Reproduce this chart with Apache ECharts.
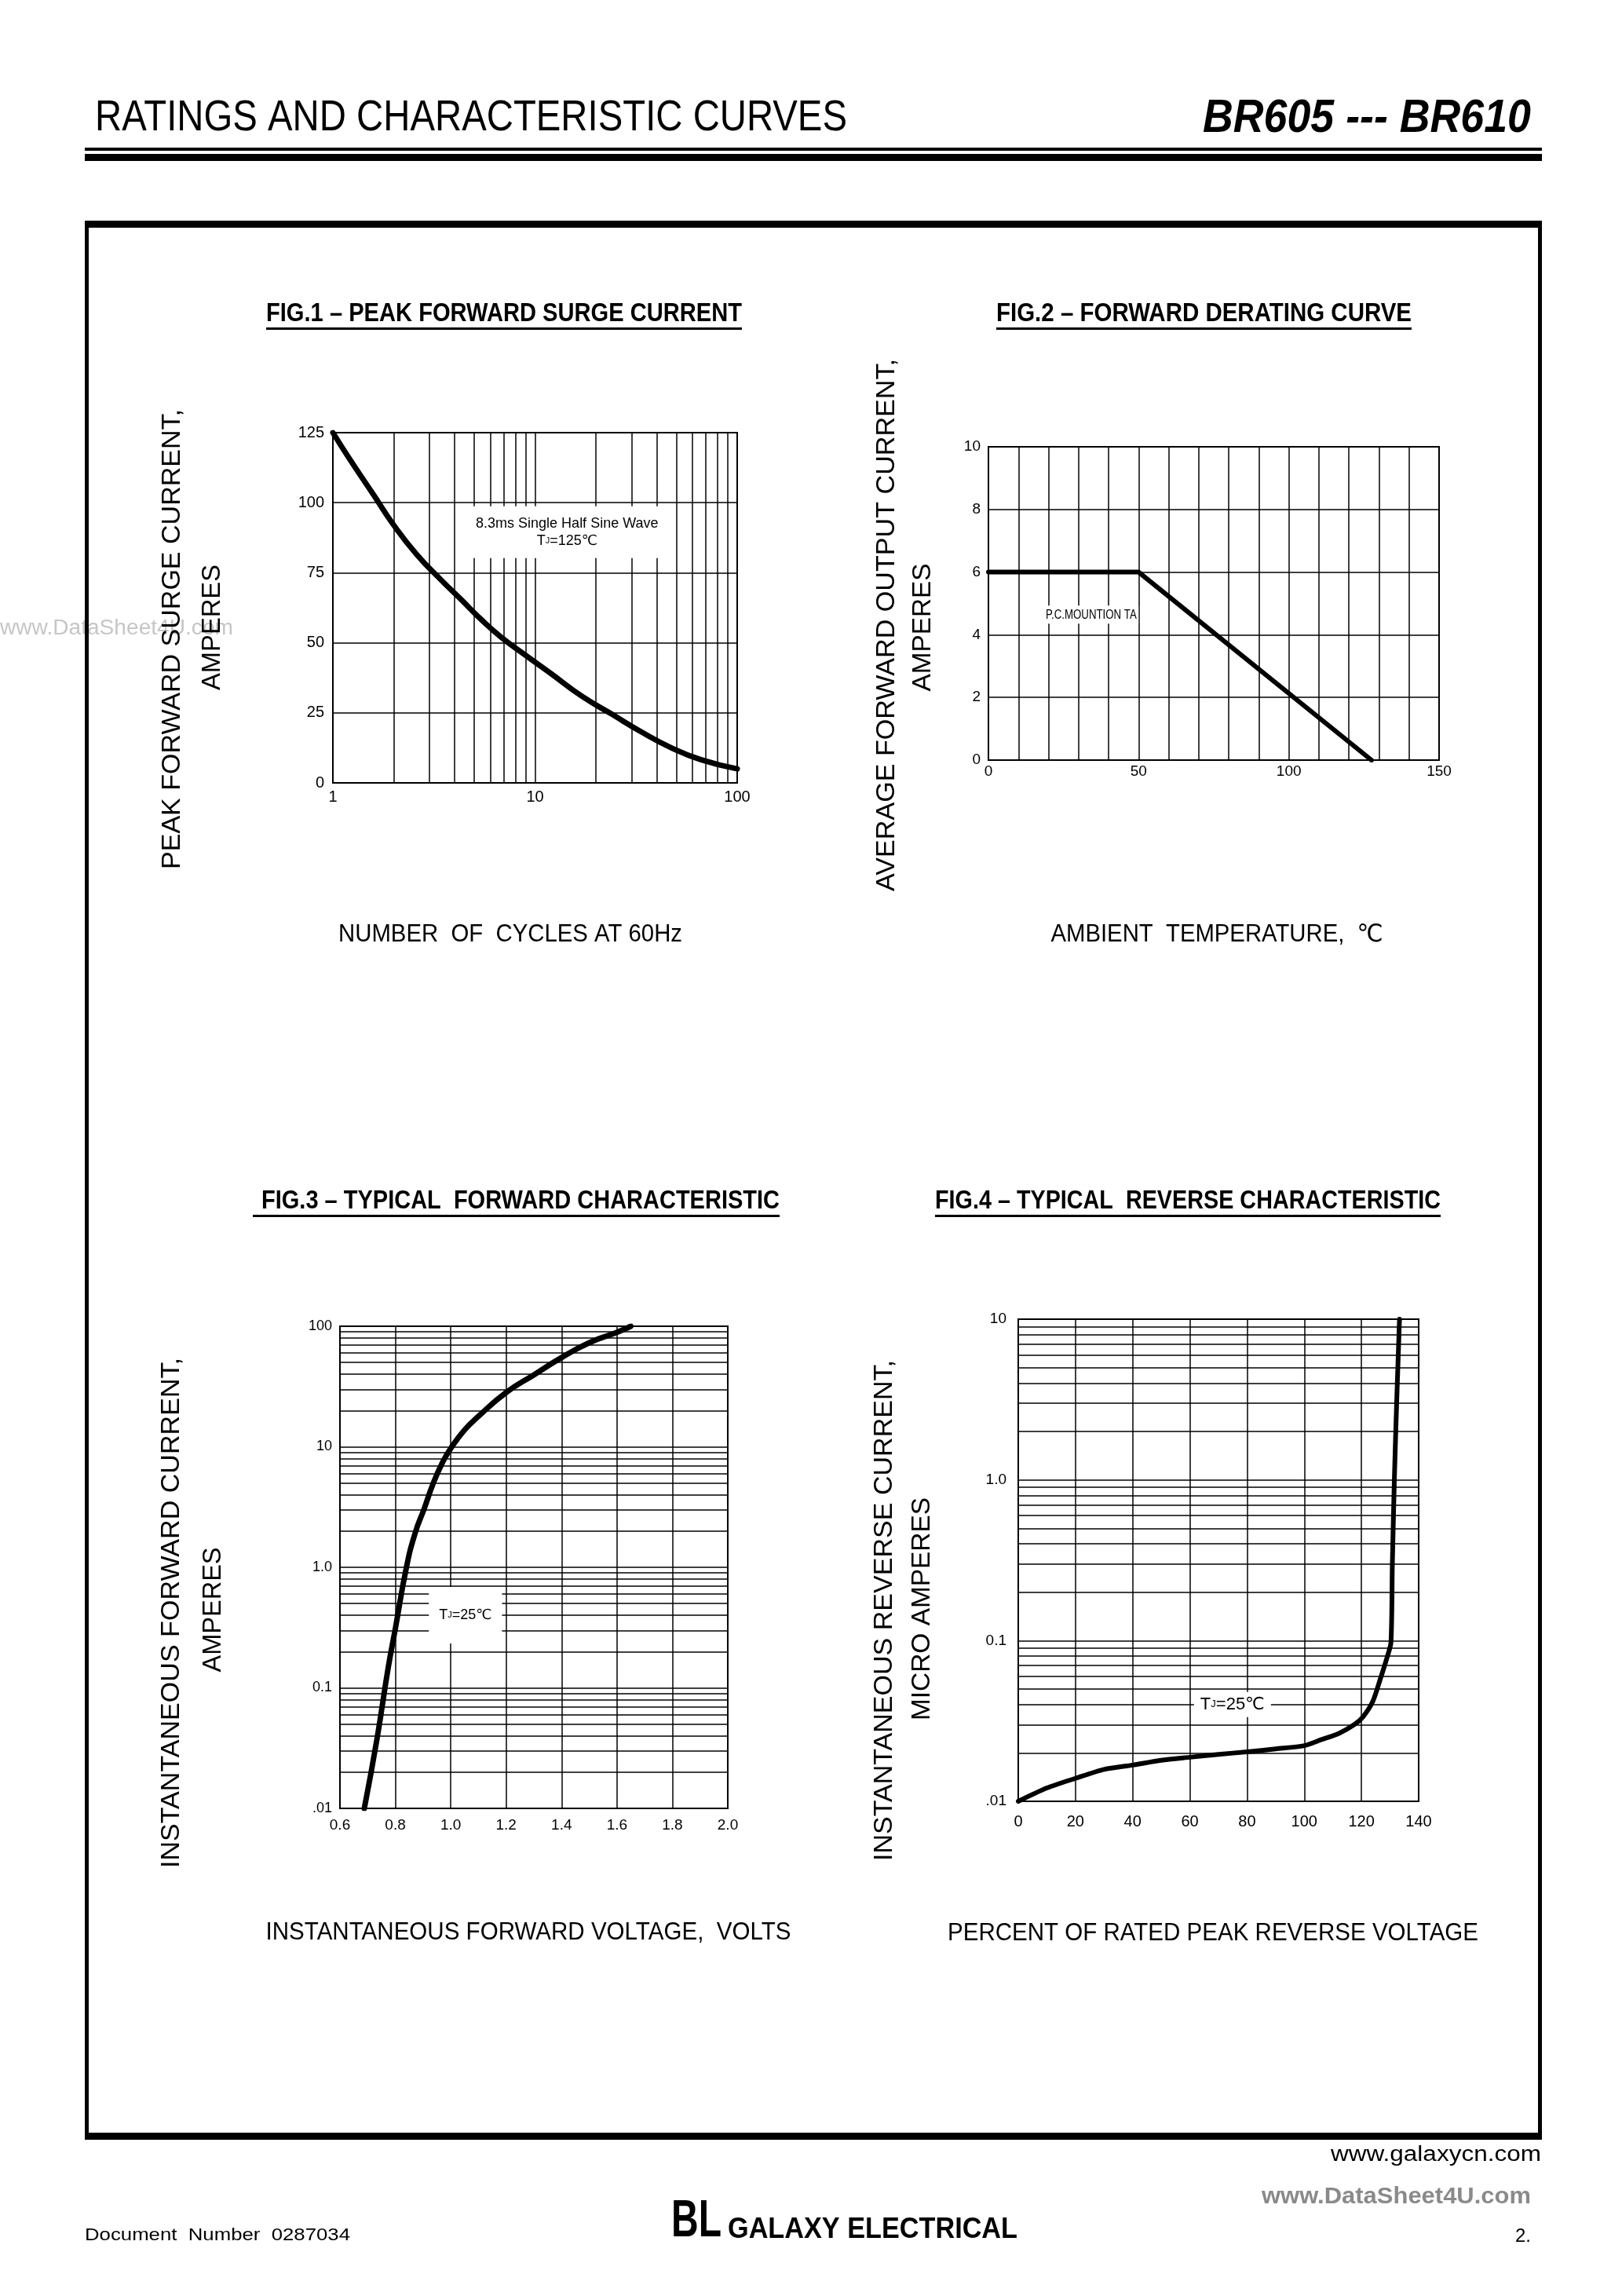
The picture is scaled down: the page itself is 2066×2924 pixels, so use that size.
<!DOCTYPE html>
<html>
<head>
<meta charset="utf-8">
<title>BR605 --- BR610 ratings and characteristic curves</title>
<script src="https://cdn.jsdelivr.net/npm/echarts@6/dist/echarts.min.js"></script>
<style>
  html, body { margin: 0; padding: 0; background: #fff; }
  #page { width: 2066px; height: 2924px; }
</style>
</head>
<body>
<div id="page"></div>
<script>
// ---- values ----

// FIG.1 peak forward surge current (log x)
const surgeCycles = [1, 1.2, 1.6, 2, 2.6, 3.4, 4.3, 5.4, 6.8, 8.8, 12, 17, 24, 33, 47, 66, 100];
const surgeAmps = [125, 116, 102.5, 92, 81.5, 72.7, 65.5, 58.4, 52, 46, 39, 31, 24.5, 18.5, 12.6, 8.3, 5];
const surgeGridX = [2, 3, 4, 5, 6, 7, 8, 9, 20, 30, 40, 50, 60, 70, 80, 90];

// FIG.2 forward derating curve
const deratingTemp = [0, 50, 127.5];
const deratingAmps = [6, 6, 0];
const deratingXLabels = [0, 50, 100, 150];

// FIG.3 typical forward characteristic (log y)
const fwdVolts = [0.688, 0.734, 0.774, 0.80, 0.84, 0.872, 0.905, 0.937, 0.97, 1.0, 1.05, 1.10, 1.20, 1.30, 1.40, 1.50, 1.60, 1.65];
const fwdAmps = [0.01, 0.038, 0.146, 0.31, 1.0, 1.94, 3.1, 5.0, 7.4, 9.7, 13.8, 17.9, 28.2, 39.5, 55, 73, 89, 100];
const fwdYLabels = ['.01', '0.1', '1.0', '10', '100'];
const fwdGridY = [0.02, 0.03, 0.04, 0.05, 0.06, 0.07, 0.08, 0.09,
                  0.2, 0.3, 0.4, 0.5, 0.6, 0.7, 0.8, 0.9,
                  2, 3, 4, 5, 6, 7, 8, 9,
                  20, 30, 40, 50, 60, 70, 80, 90];

// FIG.4 typical reverse characteristic (log y)
const revPercent = [0, 10, 20, 30, 40, 50, 60, 70, 80, 90, 100, 106, 112, 117.5, 120.5, 124, 126.5, 128.8, 130.3, 130.8, 131.5, 132.3, 133.3];
const revMicroAmps = [0.01, 0.0121, 0.0139, 0.0158, 0.0168, 0.018, 0.0188, 0.0196, 0.0203, 0.0212, 0.0222, 0.0242, 0.0264, 0.03, 0.0335, 0.042, 0.057, 0.077, 0.097, 0.3, 1.0, 3.0, 10];
const revYLabels = ['.01', '0.1', '1.0', '10'];
const revGridY = [0.02, 0.03, 0.04, 0.05, 0.06, 0.07, 0.08, 0.09,
                  0.2, 0.3, 0.4, 0.5, 0.6, 0.7, 0.8, 0.9,
                  2, 3, 4, 5, 6, 7, 8, 9];

// ---- layout ----
const FF = '"Liberation Sans", Arial, Helvetica, "DejaVu Sans", sans-serif';
const plots = [
  { left: 424, top: 551, width: 515, height: 446 },
  { left: 1259, top: 569, width: 574, height: 399 },
  { left: 433, top: 1689, width: 494, height: 614 },
  { left: 1297, top: 1680, width: 510, height: 614 }
];

const zip = (xs, ys) => xs.map((x, i) => [x, ys[i]]);
const logIdx = (v, min) => Math.round(Math.log10(v) - Math.log10(min));

function axis(gridIndex, opt, lbl) {
  return Object.assign({
    gridIndex: gridIndex,
    axisLine: { show: false },
    axisTick: { show: false },
    splitLine: { show: true, lineStyle: { color: '#000', width: 1.5 } },
    axisLabel: Object.assign({ color: '#000', fontSize: 20, fontFamily: FF }, lbl)
  }, opt);
}

// grid lines that the log axes cannot draw themselves (2..9 of each decade)
function gridLines(idx, dim, values) {
  return {
    type: 'line', xAxisIndex: idx, yAxisIndex: idx, data: [], z: 1, silent: true,
    markLine: {
      z: 1, silent: true, animation: false, symbol: ['none', 'none'],
      label: { show: false },
      lineStyle: { color: '#000', width: 1.5, type: 'solid' },
      data: values.map(v => ({ [dim]: v }))
    }
  };
}

function curve(idx, data, width, smooth) {
  return {
    type: 'line', xAxisIndex: idx, yAxisIndex: idx, data: data, z: 20, silent: true,
    showSymbol: false, smooth: smooth,
    lineStyle: { color: '#000', width: width, cap: 'round', join: 'round' }
  };
}

const chart = echarts.init(document.getElementById('page'), null, { width: 2066, height: 2924 });

chart.setOption({
  animation: false,
  backgroundColor: '#fff',
  grid: plots.map(p => Object.assign({ show: true, borderColor: '#000', borderWidth: 2, backgroundColor: '#fff' }, p)),
  xAxis: [
    axis(0, { type: 'log', logBase: 10, min: 1, max: 100 }, { margin: 8 }),
    axis(1, { type: 'value', min: 0, max: 150, interval: 10 },
      { margin: 5, fontSize: 19, formatter: v => deratingXLabels.includes(v) ? String(v) : '' }),
    axis(2, { type: 'value', min: 0.6, max: 2.0, interval: 0.2 },
      { margin: 12, fontSize: 19, formatter: v => v.toFixed(1) }),
    axis(3, { type: 'value', min: 0, max: 140, interval: 20 }, { margin: 16 })
  ],
  yAxis: [
    axis(0, { type: 'value', min: 0, max: 125, interval: 25 }, { margin: 11 }),
    axis(1, { type: 'value', min: 0, max: 10, interval: 2 }, { margin: 10, fontSize: 19 }),
    axis(2, { type: 'log', logBase: 10, min: 0.01, max: 100 },
      { margin: 10, fontSize: 18, formatter: v => fwdYLabels[logIdx(v, 0.01)] }),
    axis(3, { type: 'log', logBase: 10, min: 0.01, max: 10 },
      { margin: 15, fontSize: 19, formatter: v => revYLabels[logIdx(v, 0.01)] })
  ],
  series: [
    gridLines(0, 'xAxis', surgeGridX),
    gridLines(2, 'yAxis', fwdGridY),
    gridLines(3, 'yAxis', revGridY),
    curve(0, zip(surgeCycles, surgeAmps), 7, 0.5),
    curve(1, zip(deratingTemp, deratingAmps), 6, false),
    curve(2, zip(fwdVolts, fwdAmps), 7, 0.5),
    curve(3, zip(revPercent, revMicroAmps), 6, 0.25)
  ]
});

// ---- page text ----
const ctx = document.createElement('canvas').getContext('2d');

function text(str, x, y, size, o) {
  o = o || {};
  const weight = o.weight || 'normal';
  const fstyle = o.italic ? 'italic' : 'normal';
  ctx.font = fstyle + ' ' + weight + ' ' + size + 'px ' + FF;
  const sx = o.width ? o.width / ctx.measureText(str).width : 1;
  return {
    type: 'text', x: x, y: y, z: o.z || 30, silent: true,
    rotation: o.vertical ? Math.PI / 2 : 0,
    scaleX: sx,
    style: {
      text: str, fontSize: size, fontFamily: FF, fontWeight: weight, fontStyle: fstyle,
      fill: o.color || '#000', align: o.align || 'center', verticalAlign: 'middle'
    }
  };
}

function bar(x, y, w, h) {
  return { type: 'rect', z: 30, silent: true, shape: { x: x, y: y, width: w, height: h }, style: { fill: '#000' } };
}

function title(str, x1, x2, y, uStart) {
  return [
    text(str, (x1 + x2) / 2, y, 33, { weight: 'bold', width: x2 - x1 }),
    bar(uStart || x1, y + 17, x2 - (uStart || x1), 3)
  ];
}

// annotations placed through the chart's own scales, on a white box above the grid
function note(gridIndex, coord, str, size, pad, o) {
  o = o || {};
  const p = chart.convertToPixel({ gridIndex: gridIndex }, coord);
  return {
    type: 'text', x: p[0], y: p[1], z: 15, silent: true, scaleX: o.scaleX || 1,
    style: {
      text: str, fontSize: size, fontFamily: FF, fill: '#000',
      align: 'center', verticalAlign: 'middle', lineHeight: o.lineHeight || size + 2,
      backgroundColor: '#fff', padding: pad,
      rich: { s: { fontSize: Math.round(size * 0.6), fontFamily: FF, fill: '#000' } }
    }
  };
}

const elements = [
  // header
  text('RATINGS AND CHARACTERISTIC CURVES', 121, 151, 56, { align: 'left', width: 958 }),
  text('BR605 --- BR610', 1950, 151, 60, { align: 'right', weight: 'bold', italic: true, width: 418 }),
  bar(108, 188, 1856, 4),
  bar(108, 196, 1856, 9),

  // frame
  bar(108, 281, 1856, 9),
  bar(108, 2716, 1856, 9),
  bar(108, 281, 5, 2444),
  bar(1959, 281, 5, 2444),

  // watermark at the left edge
  text('www.DataSheet4U.com', 0, 801, 27, { align: 'left', width: 297, color: '#c6c6c6', z: 29 }),

  // figure titles
  ...title('FIG.1 \u2013 PEAK FORWARD SURGE CURRENT', 339, 945, 400),
  ...title('FIG.2 \u2013 FORWARD DERATING CURVE', 1269, 1798, 400),
  ...title('FIG.3 \u2013 TYPICAL  FORWARD CHARACTERISTIC', 333, 993, 1530, 322),
  ...title('FIG.4 \u2013 TYPICAL  REVERSE CHARACTERISTIC', 1191, 1835, 1530),

  // y axis names
  text('PEAK FORWARD SURGE CURRENT,', 220, 814, 34, { vertical: true, width: 586 }),
  text('AMPERES', 271, 799, 34, { vertical: true, width: 160 }),
  text('AVERAGE FORWARD OUTPUT CURRENT,', 1130, 796, 34, { vertical: true, width: 678 }),
  text('AMPERES', 1176, 799, 34, { vertical: true, width: 163 }),
  text('INSTANTANEOUS FORWARD CURRENT,', 219, 2054, 34, { vertical: true, width: 650 }),
  text('AMPERES', 272, 2050, 34, { vertical: true, width: 159 }),
  text('INSTANTANEOUS REVERSE CURRENT,', 1127, 2051, 34, { vertical: true, width: 638 }),
  text('MICRO AMPERES', 1175, 2049, 34, { vertical: true, width: 284 }),

  // x axis names
  text('NUMBER  OF  CYCLES AT 60Hz', 650, 1190, 31, { width: 438 }),
  text('AMBIENT  TEMPERATURE,  \u2103', 1550, 1190, 31, { width: 423 }),
  text('INSTANTANEOUS FORWARD VOLTAGE,  VOLTS', 673, 2461, 31, { width: 669 }),
  text('PERCENT OF RATED PEAK REVERSE VOLTAGE', 1545, 2462, 31, { width: 676 }),

  // footer
  text('www.galaxycn.com', 1963, 2745, 27, { align: 'right', width: 268 }),
  text('www.DataSheet4U.com', 1950, 2798, 30, { align: 'right', weight: 'bold', width: 343, color: '#8a8a8a' }),
  text('Document  Number  0287034', 108, 2847, 22, { align: 'left', width: 338 }),
  text('BL', 855, 2830, 66, { align: 'left', weight: 'bold', width: 64 }),
  text('GALAXY ELECTRICAL', 927, 2840, 36, { align: 'left', weight: 'bold', width: 369 }),
  text('2.', 1950, 2848, 24, { align: 'right' }),

  // annotations inside the plots
  note(0, [14.4, 89.5], '8.3ms Single Half Sine Wave\nT{s|J}=125\u2103', 18, [11, 13], { lineHeight: 22 }),
  note(1, [34.2, 4.64], 'P.C.MOUNTION TA', 17, [2, 3], { scaleX: 0.78 }),
  note(2, [1.053, 0.40], 'T{s|J}=25\u2103', 18, [26, 13]),
  note(3, [74.9, 0.040], 'T{s|J}=25\u2103', 22, [4, 8])
];

chart.setOption({ graphic: { elements: elements } });
</script>
</body>
</html>
